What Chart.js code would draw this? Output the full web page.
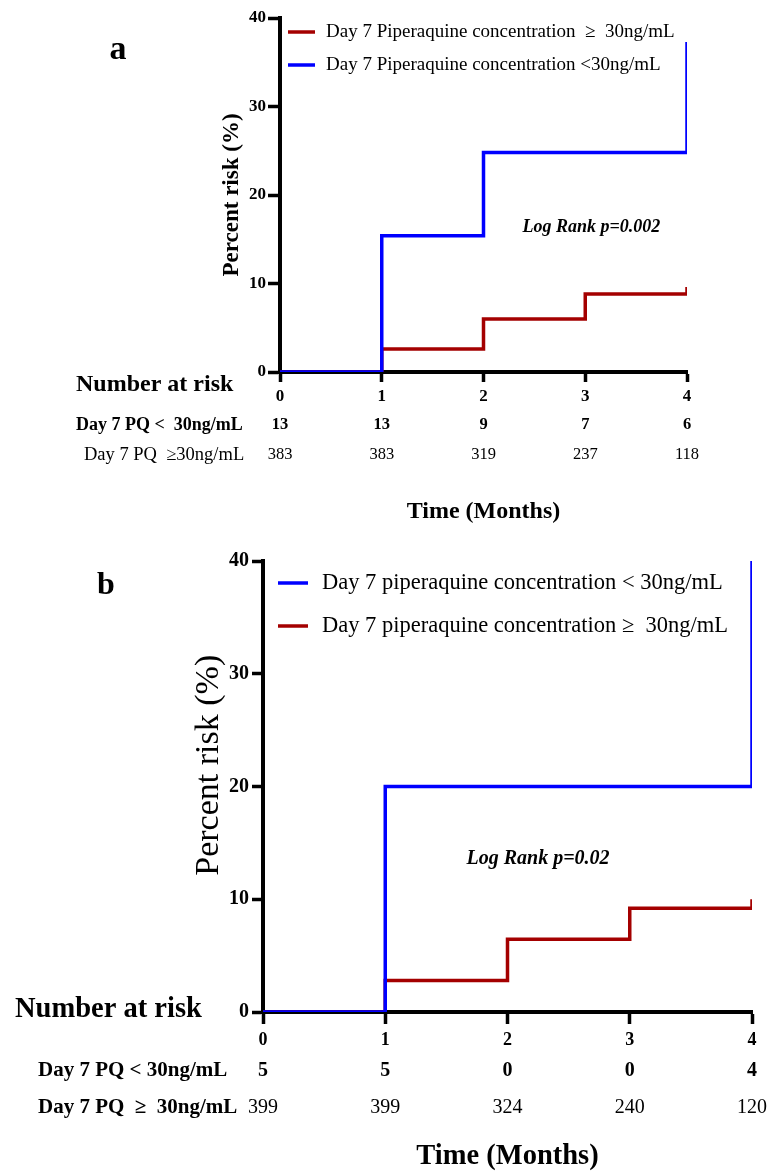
<!DOCTYPE html>
<html><head><meta charset="utf-8">
<script src="https://cdn.jsdelivr.net/npm/chart.js@4.4.0/dist/chart.umd.min.js"></script>
<style>
html,body{margin:0;padding:0;background:#fff;}
#wrap{position:relative;width:771px;height:1174px;overflow:hidden;background:#fff;}
canvas{position:absolute;left:0;}
</style></head><body>
<div id="wrap">
<canvas id="ca" width="771" height="540" style="top:0;width:771px;height:540px"></canvas>
<canvas id="cb" width="771" height="634" style="top:540px;width:771px;height:634px"></canvas>
</div>
<script>
// ---------- data ----------
const months = [0, 1, 2, 3, 4];
const xTickLabels = ['0', '1', '2', '3', '4'];
const yTickValues = [0, 10, 20, 30, 40];

// Panel a
const lowRiskA = [0, 15.4, 24.8, 24.8, 37.3];     // Day 7 PQ < 30 ng/mL (blue)
const highRiskA = [0, 2.6, 6.0, 8.8, 9.6];        // Day 7 PQ >= 30 ng/mL (red)
const atRiskLowA = [13, 13, 9, 7, 6];
const atRiskHighA = [383, 383, 319, 237, 118];

// Panel b
const lowRiskB = [0, 20, 20, 20, 40];
const highRiskB = [0, 2.8, 6.45, 9.2, 10.0];
const atRiskLowB = [5, 5, 0, 0, 4];
const atRiskHighB = [399, 399, 324, 240, 120];

const FONT = "'Liberation Serif', 'Times New Roman', serif";
const BLUE = '#0000ff';
const RED = '#a40000';

function overlayPlugin(P) {
  return {
    id: 'overlay',
    afterDraw(chart) {
      const ctx = chart.ctx, xs = chart.scales.x, ys = chart.scales.y, ca = chart.chartArea;
      ctx.save();
      ctx.fillStyle = '#000';
      ctx.textBaseline = 'middle';
      // free texts
      P.texts.forEach(t => {
        ctx.font = t.font;
        ctx.textAlign = t.align || 'left';
        ctx.fillText(t.text, t.x, t.y);
      });
      // number at risk rows
      P.rows.forEach(r => {
        ctx.font = r.font;
        ctx.textAlign = 'center';
        r.values.forEach((v, i) => ctx.fillText(String(v), xs.getPixelForValue(months[i]), r.y));
      });
      // log rank note
      ctx.font = P.note.font;
      ctx.textAlign = 'center';
      ctx.fillText(P.note.text, xs.getPixelForValue(P.note.x), ys.getPixelForValue(P.note.y));
      // legend
      ctx.font = P.legend.font;
      ctx.textAlign = 'left';
      P.legend.order.forEach((di, k) => {
        const ds = chart.data.datasets[di];
        const y = ca.top + P.legend.y0 + k * P.legend.dy;
        ctx.strokeStyle = ds.borderColor;
        ctx.lineWidth = 3.5;
        ctx.beginPath();
        ctx.moveTo(ca.left + P.legend.l0, y);
        ctx.lineTo(ca.left + P.legend.l1, y);
        ctx.stroke();
        ctx.fillStyle = '#000';
        ctx.fillText(ds.label, ca.left + P.legend.tx, y);
      });
      ctx.restore();
    }
  };
}

function buildChart(id, P) {
  const datasets = P.series.map(s => ({
    label: s.label,
    data: months.map((m, i) => ({ x: m, y: s.values[i] })),
    borderColor: s.color,
    backgroundColor: s.color,
    borderWidth: 3.5,
    stepped: true,
    pointRadius: 0,
    fill: false
  }));
  return new Chart(document.getElementById(id), {
    type: 'line',
    data: { datasets },
    options: {
      responsive: false,
      animation: false,
      devicePixelRatio: 1,
      layout: { padding: P.pad },
      plugins: { legend: { display: false }, tooltip: { enabled: false } },
      scales: {
        x: {
          type: 'linear', min: 0, max: 4,
          afterBuildTicks: s => { s.ticks = months.map(v => ({ value: v })); },
          ticks: {
            color: '#000', padding: P.xTickPad, maxRotation: 0,
            font: { family: FONT, size: P.xTickSize, weight: 'bold' },
            callback: (v, i) => xTickLabels[i]
          },
          grid: { drawOnChartArea: false, drawTicks: true, tickLength: P.xTickLen, tickWidth: 3.5, tickColor: '#000' },
          border: { display: true, color: '#000', width: 4 },
          title: {
            display: true, text: 'Time (Months)', color: '#000',
            font: { family: FONT, size: P.xTitleSize, weight: 'bold' },
            padding: { top: 0, bottom: P.xTitlePad }
          },
          afterFit: s => { s.height = P.xH; }
        },
        y: {
          type: 'linear', min: 0, max: 40,
          afterBuildTicks: s => { s.ticks = yTickValues.map(v => ({ value: v })); },
          ticks: {
            color: '#000', padding: P.yTickPad,
            font: { family: FONT, size: P.yTickSize, weight: 'bold' },
            callback: v => String(v)
          },
          grid: { drawOnChartArea: false, drawTicks: true, tickLength: P.yTickLen, tickWidth: 3.5, tickColor: '#000' },
          border: { display: true, color: '#000', width: 4 },
          title: {
            display: true, text: P.yTitle, color: '#000',
            font: { family: FONT, size: P.yTitleSize, weight: P.yTitleWeight },
            padding: { top: P.yTitlePad, bottom: 0 }
          },
          afterFit: s => { s.width = P.yW; }
        }
      }
    },
    plugins: [overlayPlugin(P)]
  });
}

// ---------- panel a ----------
buildChart('ca', {
  series: [
    { label: 'Day 7 Piperaquine concentration <30ng/mL', values: lowRiskA, color: BLUE },
    { label: 'Day 7 Piperaquine concentration  \u2265  30ng/mL', values: highRiskA, color: RED }
  ],
  pad: { left: 200, right: 84, top: 18, bottom: 0 },
  yW: 80, xH: 168,
  xTickPad: 4, xTickLen: 10, xTickSize: 17,
  yTickPad: 2, yTickLen: 12, yTickSize: 17,
  xTitleSize: 24, xTitlePad: 14,
  yTitle: 'Percent risk (%)', yTitleSize: 23, yTitleWeight: 'bold', yTitlePad: 18,
  legend: { order: [1, 0], l0: 8, l1: 35, tx: 46, y0: 14, dy: 33, font: '19px ' + FONT },
  note: { text: 'Log Rank p=0.002', x: 3.06, y: 16.3, font: 'italic bold 18px ' + FONT },
  texts: [
    { text: 'a', x: 118, y: 50, font: 'bold 34px ' + FONT, align: 'center' },
    { text: 'Number at risk', x: 76, y: 385, font: 'bold 24px ' + FONT },
    { text: 'Day 7 PQ <  30ng/mL', x: 76, y: 425, font: 'bold 18px ' + FONT },
    { text: 'Day 7 PQ  \u226530ng/mL', x: 84, y: 455, font: '18.5px ' + FONT }
  ],
  rows: [
    { values: atRiskLowA, y: 425, font: 'bold 16.5px ' + FONT },
    { values: atRiskHighA, y: 455, font: '16.5px ' + FONT }
  ]
});

// ---------- panel b ----------
buildChart('cb', {
  series: [
    { label: 'Day 7 piperaquine concentration < 30ng/mL', values: lowRiskB, color: BLUE },
    { label: 'Day 7 piperaquine concentration \u2265  30ng/mL', values: highRiskB, color: RED }
  ],
  pad: { left: 188, right: 19, top: 21, bottom: 0 },
  yW: 75, xH: 162,
  xTickPad: 6, xTickLen: 12, xTickSize: 18,
  yTickPad: 3, yTickLen: 11, yTickSize: 20,
  xTitleSize: 28.5, xTitlePad: 0,
  yTitle: '     Percent risk (%)', yTitleSize: 34, yTitleWeight: 'normal', yTitlePad: 1,
  legend: { order: [0, 1], l0: 15, l1: 45, tx: 59, y0: 22, dy: 43, font: '22.5px ' + FONT },
  note: { text: 'Log Rank p=0.02', x: 2.25, y: 13.6, font: 'italic bold 20px ' + FONT },
  texts: [
    { text: 'b', x: 106, y: 46, font: 'bold 32px ' + FONT, align: 'center' },
    { text: 'Number at risk', x: 15, y: 470, font: 'bold 28.5px ' + FONT },
    { text: 'Day 7 PQ < 30ng/mL', x: 38, y: 531, font: 'bold 21px ' + FONT },
    { text: 'Day 7 PQ  \u2265  30ng/mL', x: 38, y: 568, font: 'bold 21px ' + FONT }
  ],
  rows: [
    { values: atRiskLowB, y: 531, font: 'bold 20px ' + FONT },
    { values: atRiskHighB, y: 568, font: '20px ' + FONT }
  ]
});
</script>
</body></html>
